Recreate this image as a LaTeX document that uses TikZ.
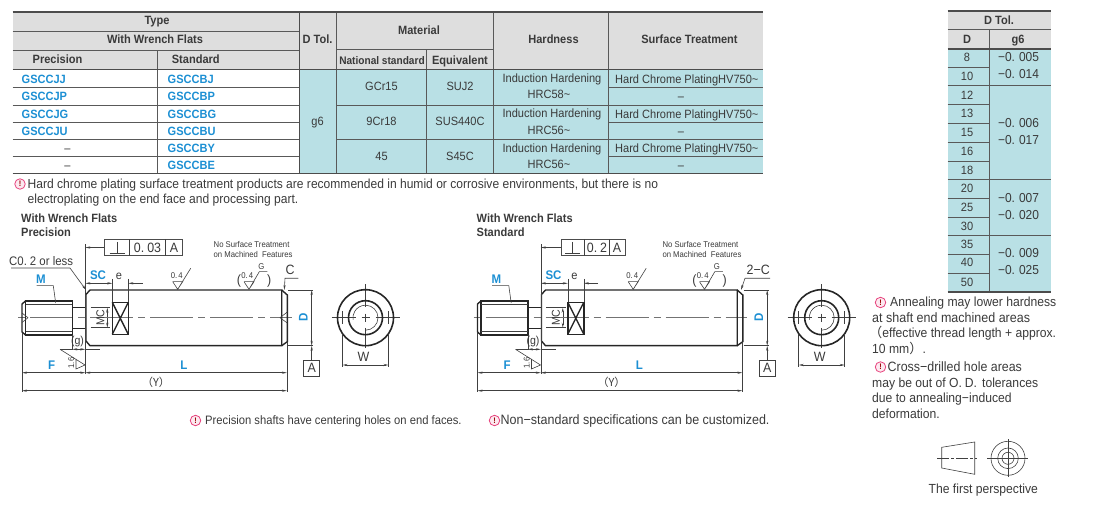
\documentclass[tikz,border=0pt]{standalone}
\usepackage{fontspec}
\setmainfont[FakeStretch=0.92]{Liberation Sans}
\newfontfamily\cjk{Noto Sans CJK SC}
\usetikzlibrary{arrows.meta}
\definecolor{headgray}{HTML}{DEDEDE}
\definecolor{cellblue}{HTML}{B9E0E5}
\definecolor{codeblue}{HTML}{1C8FD3}
\definecolor{inkgray}{HTML}{3A3A3A}
\definecolor{warnpink}{HTML}{E8457F}
\tikzset{
  every node/.style={inner sep=0pt,text=inkgray,text height=8.6pt,text depth=0pt,font=\fontsize{12}{14}\selectfont},
  rule/.style={draw=black!70,line width=1.5pt},
  gridline/.style={draw=black!65,line width=1pt},
  headtext/.style={font=\fontsize{12}{14}\bfseries\selectfont},
  codetext/.style={anchor=west,text=codeblue,font=\fontsize{12}{14}\bfseries\selectfont},
  notetext/.style={anchor=west,font=\fontsize{13.2}{14}\selectfont},
  warnicon/.style={circle,draw=warnpink,fill=warnpink!12,line width=0.8pt,minimum size=10.5pt,text height=5.5pt,text=red!60!black,font=\fontsize{8}{8}\bfseries\selectfont},
  outline/.style={draw=black!85,line width=1.4pt},
  thinline/.style={draw=black!75,line width=0.6pt},
  centerline/.style={draw=black!55,line width=0.8pt,dash pattern=on 43pt off 5pt on 7pt off 5pt,dash phase=47pt},
  dimline/.style={draw=black!75,line width=0.6pt,{Stealth[length=5pt,width=2.2pt]}-{Stealth[length=5pt,width=2.2pt]}},
  tipline/.style={draw=black!75,line width=0.6pt,-{Stealth[length=5pt,width=2.2pt]}},
  dimlabel/.style={text=codeblue,font=\fontsize{12.5}{14}\bfseries\selectfont},
  smalltext/.style={text height=6pt,font=\fontsize{8.4}{10}\selectfont},
  bigtext/.style={text height=9.2pt,font=\fontsize{13.5}{14}\selectfont},
}
\begin{document}
\begin{tikzpicture}[x=1pt,y=-1pt]
  \useasboundingbox (0,0) rectangle (1100,510);
  % Main table
  \fill[headgray] (12.5,12) rectangle (763,69.5);
  \fill[cellblue] (299.5,69.5) rectangle (763,173.5);
  \foreach \y in {88,105.5,122.5,140,157} {
      \draw[gridline] (12.5,\y) -- (299.5,\y);
      \draw[gridline] (608,\y) -- (763,\y);
    }
  \foreach \y in {105.5,140} \draw[gridline] (336.5,\y) -- (608,\y);
  \draw[gridline] (12.5,31.5) -- (299.5,31.5);
  \draw[gridline] (12.5,50.5) -- (299.5,50.5);
  \draw[gridline] (336.5,50) -- (493.5,50);
  \draw[gridline] (157,50.5) -- (157,173.5);
  \draw[gridline] (336.5,12) -- (336.5,173.5);
  \draw[gridline] (426.5,50) -- (426.5,173.5);
  \draw[gridline] (493.5,12) -- (493.5,173.5);
  \draw[gridline] (608,12) -- (608,173.5);
  \draw[rule] (299.5,12) -- (299.5,173.5);
  \foreach \y in {12,69.5,173.5} \draw[rule] (12.5,\y) -- (763,\y);
  % Header texts
  \foreach \x/\y/\txt [count=\i] in {157/20.5/Type,155/39.5/With Wrench Flats,57.5/59.5/Precision,195.8/59.5/Standard,317.5/39.5/D Tol.,419/30.5/Material,553.5/39.5/Hardness,689.5/39.5/Surface Treatment,460/60/Equivalent}
    \node[headtext] (head\i) at (\x,\y) {\txt};
  \node[headtext,font=\fontsize{11}{12}\bfseries\selectfont] (headnat) at (382,60) {National standard};
  % Type codes
  \foreach \y/\txt [count=\i] in {79/GSCCJJ,96/GSCCJP,114/GSCCJG,131/GSCCJU}
    \node[codetext] (prec\i) at (21.5,\y) {\txt};
  \foreach \y/\txt [count=\i] in {79/GSCCBJ,96/GSCCBP,114/GSCCBG,131/GSCCBU,148/GSCCBY,165/GSCCBE}
    \node[codetext] (std\i) at (167.5,\y) {\txt};
  \foreach \y [count=\i] in {148,165} \node (none\i) at (67.5,\y) {--};
  % Body cells
  \node (tolcell) at (317.5,121) {g6};
  \foreach \y/\mat/\equ/\hrc/\sa/\sb [count=\i] in {86/GCr15/SUJ2/58/78.5/94.5,121/9Cr18/SUS440C/56/113/130,156/45/S45C/56/148/164} {
      \node (mat\i) at (381.5,\y) {\mat};
      \node (equ\i) at (460,\y) {\equ};
      \node (hard\i) at (552,\sa) {Induction Hardening};
      \node (hrc\i) at (549,\sb) {HRC\hrc\textasciitilde};
    }
  \foreach \y [count=\i] in {79,114,148} \node (plate\i) at (686.8,\y) {Hard Chrome PlatingHV750\textasciitilde};
  \foreach \y [count=\i] in {96,131,165} \node (dash\i) at (681,\y) {--};
  % Note under table
  \node[warnicon] (warnA) at (20,184) {!};
  \node[notetext,font=\fontsize{13.1}{14}\selectfont] (noteA) at (27.5,184) {Hard chrome plating surface treatment products are recommended in humid or corrosive environments, but there is no};
  \node[notetext,font=\fontsize{13.1}{14}\selectfont] (noteB) at (27.5,199.5) {electroplating on the end face and processing part.};
  % D Tol. table
  \fill[headgray] (947.5,11) rectangle (1051,49);
  \fill[cellblue] (947.5,49) rectangle (1051,292);
  \foreach \y in {68,86,105,124,142.5,161.5,180,198.5,217.5,236,255,273.5}
    \draw[gridline] (947.5,\y) -- (989.5,\y);
  \foreach \y in {86,180,236} \draw[gridline] (989.5,\y) -- (1051,\y);
  \draw[gridline] (947.5,30) -- (1051,30);
  \draw[gridline] (989.5,30) -- (989.5,292);
  \foreach \y in {11,49,292} \draw[rule] (947.5,\y) -- (1051,\y);
  \node[headtext] (tolhead) at (999,20) {D Tol.};
  \node[headtext] (tolD) at (967,39) {D};
  \node[headtext] (tolG) at (1018,39.5) {g6};
  \foreach \y/\txt [count=\i] in {57/8,76/10,95/12,113/13,132/15,151/16,170/18,188/20,207/25,226/30,244/35,262/40,282/50}
    \node (dval\i) at (967,\y) {\txt};
  \foreach \y/\txt [count=\i] in {57/005,74/014,123/006,140/017,198/007,215/020,253/009,270/025}
    \node[font=\fontsize{13}{14}\selectfont] (tval\i) at (1018.5,\y) {−0.\hspace{4pt}\txt};
  % Shafts
  \foreach \dx/\tag in {0/p,455.5/s} {
      \begin{scope}[xshift=\dx pt]
        \draw[centerline] (17,317.7) -- (291.7,317.7);
        \draw[outline] (90,290) -- (281.7,290) -- (281.7,345.7) -- (90,345.7) -- (86,341) -- (86,294.5) -- cycle;
        \draw[outline] (281.7,290) -- (287.3,295) -- (287.3,341.7) -- (281.7,345.7);
        \draw[outline] (72.3,307.3) -- (86,307.3) (72.3,328.3) -- (86,328.3);
        \draw[outline] (25.5,301) rectangle (72.3,335);
        \draw[outline] (25.5,301) -- (22,304) -- (22,332) -- (25.5,335);
        \draw[thinline] (25.5,304.5) -- (72.3,304.5) (25.5,331) -- (72.3,331);
        \draw[outline] (112.3,302.3) rectangle (128.3,334.3);
        \draw[outline] (112.3,302.3) -- (128.3,334.3) (128.3,302.3) -- (112.3,334.3);
        % Extension lines
        \draw[thinline] (85.3,244.3) -- (85.3,374.3);
        \draw[thinline] (112.3,279) -- (112.3,302.3) (128.3,279) -- (128.3,302.3);
        \draw[thinline] (22,333) -- (22,392.3) (286.9,342) -- (286.9,392.3);
        \draw[thinline] (72.3,335) -- (72.3,350);
        \draw[thinline] (90.7,307.7) -- (110,307.7) (90.7,327.7) -- (110,327.7);
        \draw[thinline] (288,290) -- (313.3,290) (288,345.7) -- (313.3,345.7);
        % Dimensions
        \draw[dimline] (85.3,283.3) -- (112.3,283.3);
        \draw[tipline] (142.7,283.3) -- (128.3,283.3);
        \draw[tipline] (107.3,317) -- (107.3,307.7);
        \draw[tipline] (107.3,318.5) -- (107.3,327.7);
        \draw[dimline] (72.3,349.3) -- (85.3,349.3);
        \draw[thinline] (60,349.3) -- (72.3,349.3) (85.3,349.3) -- (100,349.3);
        \draw[dimline] (22,372.7) -- (85.3,372.7);
        \draw[dimline] (85.3,372.7) -- (286.9,372.7);
        \draw[dimline] (22,390.7) -- (286.9,390.7);
        \draw[dimline] (311.7,290) -- (311.7,345.7);
        \coordinate (datum\tag) at (311.7,360);
        \draw[tipline] (datum\tag) -- (311.7,345.7);
        \node[draw=black!75,line width=0.7pt,minimum width=16pt,minimum height=15.7pt,anchor=north,bigtext] (refA\tag) at (datum\tag) {A};
        % Labels
        \node[dimlabel] (labM\tag) at (41,279) {M};
        \draw[thinline] (36.7,285.7) -- (53.3,285.7) -- (55.7,303);
        \node[dimlabel] (labSC\tag) at (98,275) {SC};
        \node (labE\tag) at (119,275) {e};
        \node[rotate=90,font=\fontsize{11.5}{12}\selectfont] (labMC\tag) at (100,317.7) {MC};
        \node[font=\fontsize{11.5}{12}\selectfont] (labG\tag) at (77.5,340.5) {(g)};
        \node[dimlabel] (labF\tag) at (51.7,365) {F};
        \node[dimlabel] (labL\tag) at (184,365) {L};
        \node[font=\fontsize{11}{12}\cjk\selectfont] (labY\tag) at (156,381.7) {（Y）};
        \node[dimlabel,rotate=90] (labD\tag) at (303.3,317.7) {D};
        % Roughness marks
        \draw[thinline] (60,349.3) -- (85,365) -- (76,369) -- (76,359);
        \node[rotate=90,smalltext] (rough16\tag) at (71,363) {1.6};
        \draw[thinline] (172.7,281.7) -- (182.7,281.7) -- (177.7,289.3) -- (172.7,281.7) (177.7,289.3) -- (190.7,268.3);
        \node[smalltext] (roughA\tag) at (176.7,275.7) {0.\hspace{1pt}4};
        \draw[thinline] (244,281.7) -- (254,281.7) -- (249,289.3) -- (244,281.7) (249,289.3) -- (259.3,271.7) -- (267.3,271.7);
        \node[smalltext] (roughB\tag) at (247.3,276) {0.\hspace{1pt}4};
        \node[smalltext] (roughG\tag) at (261.3,266.3) {G};
        \node[bigtext] (parL\tag) at (239,280) {(};
        \node[bigtext] (parR\tag) at (269.3,280) {)};
      \end{scope}
    }
  % Centre holes of precision shaft
  \draw[thinline] (22,313) -- (28,317.7) -- (22,322.5);
  \draw[thinline] (287.3,312) -- (280,317.7) -- (287.3,323);
  % End views
  \foreach \cx/\tag in {365.5/p,821.7/s} {
      \coordinate (hub\tag) at (\cx,317.7);
      \draw[thinline] (\cx-34,317.7) -- (\cx-10,317.7) (\cx-4,317.7) -- (\cx+4,317.7) (\cx+10,317.7) -- (\cx+34,317.7);
      \draw[thinline] (\cx,284.3) -- (\cx,307) (\cx,313.7) -- (\cx,321.7) (\cx,328) -- (\cx,348);
      \draw[line width=1.6pt,draw=black!85] (hub\tag) circle (28pt);
      \draw[line width=1.6pt,draw=black!85] (hub\tag) circle (17pt);
      \draw[thinline] (\cx,330.2) arc[start angle=-90,end angle=190,radius=12.5pt];
      \draw[thinline] (\cx-23,311) -- (\cx-23,324) (\cx+23,311) -- (\cx+23,324);
      \draw[thinline] (\cx-23,334) -- (\cx-23,367) (\cx+23,334) -- (\cx+23,367);
      \draw[dimline] (\cx-23,365) -- (\cx+23,365);
      \node[bigtext] (labW\tag) at (\cx-2,356.7) {W};
    }
  % Precision callouts
  \node[headtext,anchor=west] (titleA) at (21,218) {With Wrench Flats};
  \node[headtext,anchor=west] (titleB) at (21,232) {Precision};
  \node[font=\fontsize{12.4}{14}\selectfont,anchor=west] (chamfer) at (9,261) {C0.\hspace{3pt}2 or less};
  \coordinate (chamferEnd) at (11,268);
  \draw[tipline] (chamferEnd) -- (70,268) -- (86,290);
  \node[draw=black!70,line width=0.7pt,minimum width=78pt,minimum height=16.4pt,anchor=west] (frameA) at (104.3,247.5) {};
  \draw[thinline] (129.3,239.3) -- (129.3,255.7) (165.7,239.3) -- (165.7,255.7);
  \draw[thinline] (109.5,253.5) -- (124.5,253.5) (117,242) -- (117,253.5);
  \node[bigtext] (frameTolA) at (147.5,247.5) {0.\hspace{3pt}03};
  \node[bigtext] (frameRefA) at (174,247.5) {A};
  \coordinate (frameArrowA) at (85.3,247.5);
  \draw[tipline] (frameA.west) -- (frameArrowA);
  \node[smalltext,anchor=west] (bareA) at (213.5,244.3) {No Surface Treatment};
  \node[smalltext,anchor=west] (bareB) at (213.5,254.3) {on Machined\hspace{2pt} Features};
  \node[bigtext] (labC) at (290,270) {C};
  \draw[tipline] (298.3,278.3) -- (285,278.3) -- (284.3,290);
  % Standard callouts
  \node[headtext,anchor=west] (titleC) at (476.5,218) {With Wrench Flats};
  \node[headtext,anchor=west] (titleD) at (476.5,232) {Standard};
  \node[draw=black!70,line width=0.7pt,minimum width=64.6pt,minimum height=16.4pt,anchor=west] (frameB) at (560.7,247.5) {};
  \draw[thinline] (584.3,239.3) -- (584.3,255.7) (609,239.3) -- (609,255.7);
  \draw[thinline] (565,253.5) -- (580,253.5) (572.5,242) -- (572.5,253.5);
  \node[bigtext] (frameTolB) at (597,247.5) {0.\hspace{3pt}2};
  \node[bigtext] (frameRefB) at (617,247.5) {A};
  \coordinate (frameArrowB) at (540.8,247.5);
  \draw[tipline] (frameB.west) -- (frameArrowB);
  \node[smalltext,anchor=west] (bareC) at (662.3,244.3) {No Surface Treatment};
  \node[smalltext,anchor=west] (bareD) at (662.3,254.3) {on Machined\hspace{2pt} Features};
  \node[bigtext] (lab2C) at (758.3,270) {2−C};
  \draw[tipline] (770,278.3) -- (745,278.3) -- (741,290);
  % Notes under drawings
  \node[warnicon] (warnB) at (195.5,420.5) {!};
  \node[notetext,font=\fontsize{12.2}{14}\selectfont] (noteC) at (205,420.5) {Precision shafts have centering holes on end faces.};
  \node[warnicon] (warnC) at (494.5,420.5) {!};
  \node[notetext,font=\fontsize{13.6}{14}\selectfont] (noteD) at (500.5,420.5) {Non−standard specifications can be customized.};
  % Notes on the right
  \node[warnicon] (warnD) at (880.5,302.5) {!};
  \node[notetext] (noteE) at (890,302) {Annealing may lower hardness};
  \node[notetext,font=\fontsize{13.6}{14}\selectfont] (noteF) at (872,318) {at shaft end machined areas};
  \node[notetext] (noteG) at (869,333) {{\cjk（}effective thread length + approx.};
  \node[notetext] (noteH) at (872,349) {10 mm{\cjk）}.};
  \node[warnicon] (warnE) at (880.5,367) {!};
  \node[notetext,font=\fontsize{13.5}{14}\selectfont] (noteI) at (887.5,367) {Cross−drilled hole areas};
  \node[notetext] (noteJ) at (872,383) {may be out of O.\hspace{3pt}D.\hspace{5pt}tolerances};
  \node[notetext] (noteK) at (872,398) {due to annealing−induced};
  \node[notetext] (noteL) at (872,414) {deformation.};
  % First angle symbol
  \draw[thinline] (941.7,447.3) -- (974.7,442) -- (974.7,474.3) -- (941.7,468) -- cycle;
  \draw[thinline,dash pattern=on 12pt off 2pt on 3pt off 2pt] (937.3,458.3) -- (977.3,458.3);
  \coordinate (eyeC) at (1008,458.3);
  \foreach \r in {17,10.3,6} \draw[thinline] (eyeC) circle (\r pt);
  \draw[thinline] (987.3,458.3) -- (1028.3,458.3) (1008,439.3) -- (1008,477.3);
  \node[notetext,anchor=center] (perspective) at (983.3,489) {The first perspective};
\end{tikzpicture}
\end{document}
